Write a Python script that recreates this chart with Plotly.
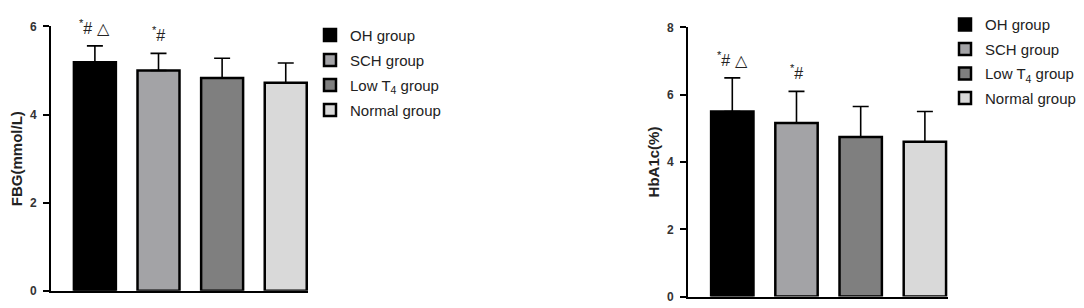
import plotly.graph_objects as go

groups = ["OH group", "SCH group", "Low T<sub>4</sub> group", "Normal group"]
colors = ["#000000", "#a3a3a6", "#7f7f7f", "#d9d9d9"]
fbg_mean = [5.19, 5.00, 4.83, 4.72]
fbg_sd = [0.37, 0.39, 0.45, 0.45]
hba_mean = [5.50, 5.16, 4.74, 4.60]
hba_sd = [1.00, 0.94, 0.91, 0.90]
sig_labels = ["<sup>*</sup># △", "<sup>*</sup>#", "", ""]
fbg_ticks = [0, 2, 4, 6]
hba_ticks = [0, 2, 4, 6, 8]

W, H = 1084, 308
FONT = "Liberation Sans, Arial, sans-serif"

fig = go.Figure()
xpos = list(range(len(groups)))

def add_panel(means, sds, xa, ya, legend):
    for i, g in enumerate(groups):
        fig.add_trace(go.Bar(
            x=[xpos[i]], y=[means[i]], name=g,
            marker=dict(color=colors[i], line=dict(color="black", width=2.5)),
            width=0.66,
            error_y=dict(type="data", array=[sds[i]], arrayminus=[0], symmetric=False,
                         color="black", thickness=1.6, width=8),
            xaxis=xa, yaxis=ya, legend=legend, legendgroup=legend + str(i),
            showlegend=True,
        ))
        if sig_labels[i]:
            fig.add_annotation(x=xpos[i], y=means[i] + sds[i], xref=xa, yref=ya,
                               text=sig_labels[i], showarrow=False, yanchor="middle",
                               yshift=19, font=dict(size=16, family=FONT, color="#222"))

add_panel(fbg_mean, fbg_sd, "x", "y", "legend")
add_panel(hba_mean, hba_sd, "x2", "y2", "legend2")

axis_common = dict(showline=True, linecolor="black", linewidth=1.6, showgrid=False,
                   zeroline=False, tickcolor="black", tickwidth=1.5,
                   tickfont=dict(size=12, family=FONT, color="#333", weight="bold"))

fig.update_layout(
    width=W, height=H, margin=dict(l=0, r=0, t=0, b=0),
    plot_bgcolor="white", paper_bgcolor="white", barmode="overlay",
    font=dict(family=FONT, size=15, color="#222"),
    xaxis=dict(domain=[43 / W, 300 / W], range=[-0.69, 3.35], showticklabels=False,
               anchor="y", ticks="", **axis_common),
    yaxis=dict(domain=[1 - 289 / H, 1 - 12 / H], range=[0, 6], tickvals=fbg_ticks,
               anchor="x", ticks="outside", ticklen=6, ticklabelstandoff=4,
               title=dict(text="<b>FBG(mmol/L)</b>", font=dict(size=15, family=FONT), standoff=4),
               **axis_common),
    xaxis2=dict(domain=[680 / W, 940 / W], range=[-0.69, 3.36], showticklabels=False,
                anchor="y2", ticks="", **axis_common),
    yaxis2=dict(domain=[1 - 295 / H, 1 - 13 / H], range=[0, 8], tickvals=hba_ticks,
                anchor="x2", ticks="outside", ticklen=6, ticklabelstandoff=4,
                title=dict(text="<b>HbA1c(%)</b>", font=dict(size=15, family=FONT), standoff=4),
                **axis_common),
    legend=dict(x=302 / W, y=1 - 4 / H, xanchor="left", yanchor="top", tracegroupgap=2.5,
                font=dict(size=15, family=FONT), bgcolor="rgba(0,0,0,0)"),
    legend2=dict(x=937 / W, y=1 - (-7) / H, xanchor="left", yanchor="top", tracegroupgap=2,
                 font=dict(size=15, family=FONT), bgcolor="rgba(0,0,0,0)"),
)

fig.write_html("out.html")
